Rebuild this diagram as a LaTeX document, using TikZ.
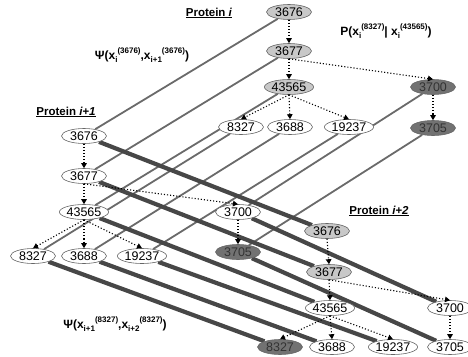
\documentclass[tikz,border=0pt]{standalone}
\usepackage{fontspec}
\setmainfont{Liberation Sans}
\usetikzlibrary{shapes.geometric,arrows.meta}
\pgfdeclarelayer{bg}
\pgfsetlayers{bg,main}
\definecolor{lightg}{HTML}{C8C8C8}
\definecolor{darkg}{HTML}{727272}
\definecolor{thinc}{HTML}{6A6A6A}
\definecolor{thickc}{HTML}{474747}
\newcommand\sbx[1]{\raisebox{-0.28em}{\fontsize{8}{8}\selectfont #1}}
\newcommand\spx[1]{\raisebox{0.5em}{\fontsize{8}{8}\selectfont #1}}
\begin{document}
\begin{tikzpicture}[x=1pt,y=-1pt,
  nd/.style={ellipse, draw=black!60, line width=0.6pt, fill=white,
    minimum width=45pt, minimum height=15pt, inner sep=0pt,
    font=\fontsize{12.5}{13}\selectfont},
  lt/.style={nd, fill=lightg},
  dk/.style={nd, fill=darkg, text=black!80},
  dep/.style={black, line width=1.1pt, dash pattern=on 1.1pt off 2pt,
    -{Triangle[length=5pt,width=5.5pt]}},
  lnk/.style={thinc, line width=1.8pt},
  bnd/.style={thickc, line width=4.2pt},
  lbl/.style={font=\fontsize{11.5}{13}\selectfont\bfseries, inner sep=0pt},
  frm/.style={font=\fontsize{12}{13}\selectfont\bfseries, inner sep=0pt}
]
\clip (0,0) rectangle (468,356);
% tree i
\node[lt] (a3676)  at (289,12)  {3676};
\node[lt] (a3677)  at (289,51)  {3677};
\node[lt] (a43565) at (289,87)  {43565};
\node[nd] (a8327)  at (241,127) {8327};
\node[nd] (a3688)  at (290,127) {3688};
\node[nd] (a19237) at (349,127) {19237};
\node[dk] (a3700)  at (433,87)  {3700};
\node[dk] (a3705)  at (433,128) {3705};
% tree i+1
\node[nd] (b3676)  at (84,136)  {3676};
\node[nd] (b3677)  at (84,176)  {3677};
\node[nd] (b43565) at (84,212)  {43565};
\node[nd] (b8327)  at (33,256)  {8327};
\node[nd] (b3688)  at (84,256)  {3688};
\node[nd] (b19237) at (142,256) {19237};
\node[nd] (b3700)  at (238,212) {3700};
\node[dk] (b3705)  at (238,252) {3705};
% tree i+2
\node[lt] (c3676)  at (327,231) {3676};
\node[lt] (c3677)  at (329,272) {3677};
\node[nd] (c43565) at (330,308) {43565};
\node[dk] (c8327)  at (280,347) {8327};
\node[nd] (c3688)  at (332,347) {3688};
\node[nd] (c19237) at (393,347) {19237};
\node[nd] (c3700)  at (450,308) {3700};
\node[nd] (c3705)  at (450,347) {3705};
% labels
\node[lbl] (pi)  at (209,13)  {\underline{Protein \textit{i}}};
\node[lbl] (pi1) at (66,112)  {\underline{Protein \textit{i+1}}};
\node[lbl] (pi2) at (379,211) {\underline{Protein \textit{i+2}}};
\node[frm] (psi1) at (142,55) {Ψ(x\sbx{i}\spx{(3676)},x\sbx{i+1}\spx{(3676)})};
\node[frm] (pcond) at (386,31) {P(x\sbx{i}\spx{(8327)}| x\sbx{i}\spx{(43565)})};
\node[frm] (psi2) at (115,324) {Ψ(x\sbx{i+1}\spx{(8327)},x\sbx{i+2}\spx{(8327)})};
% connectors between proteins
\begin{pgfonlayer}{bg}
\foreach \n in {3676,3677,43565,8327,3688,19237,3700,3705}{
  \draw[lnk] (a\n) -- (b\n);
}
\foreach \n in {3676,3677,43565,8327,3688,19237,3700,3705}{
  \draw[bnd] (b\n) -- (c\n);
}
\end{pgfonlayer}
% dependencies within each protein
\foreach \t in {a,b,c}{
  \draw[dep] (\t3676.south) -- (\t3677.north);
  \draw[dep] (\t3677.south) -- (\t43565.north);
  \draw[dep] (\t3677.south) -- (\t3700.north);
  \draw[dep] (\t43565.south) -- (\t8327.north);
  \draw[dep] (\t43565.south) -- (\t3688.north);
  \draw[dep] (\t43565.south) -- (\t19237.north);
  \draw[dep] (\t3700.south) -- (\t3705.north);
}
\end{tikzpicture}
\end{document}
